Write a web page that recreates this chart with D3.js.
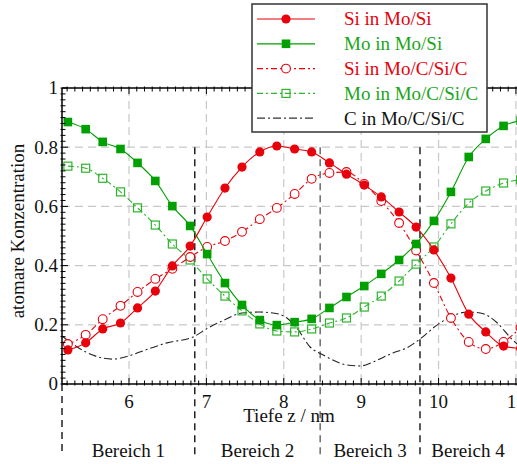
<!DOCTYPE html>
<html>
<head>
<meta charset="utf-8">
<script src="https://cdn.jsdelivr.net/npm/d3@7"></script>
<style>
  body { margin: 0; background: #fff; }
  svg text { font-family: 'Liberation Serif', 'DejaVu Serif', serif; }
</style>
</head>
<body>
<div id="chart"></div>
<script>
// depth positions of the measured points (nm)
var depth = [5.21, 5.44, 5.66, 5.89, 6.11, 6.34, 6.56, 6.79, 7.01, 7.24, 7.46, 7.69, 7.91,
  8.14, 8.36, 8.59, 8.81, 9.04, 9.26, 9.49, 9.71, 9.94, 10.16, 10.39, 10.61, 10.84, 11.06];

var siMoSi = [0.115, 0.139, 0.186, 0.206, 0.257, 0.314, 0.399, 0.466, 0.564, 0.662, 0.733, 0.784, 0.804,
  0.794, 0.784, 0.747, 0.709, 0.672, 0.632, 0.581, 0.530, 0.453, 0.358, 0.236, 0.176, 0.128, 0.12];
var moMoSi = [0.885, 0.861, 0.818, 0.794, 0.747, 0.686, 0.601, 0.534, 0.439, 0.341, 0.267, 0.216, 0.199,
  0.209, 0.220, 0.257, 0.294, 0.331, 0.372, 0.419, 0.473, 0.551, 0.649, 0.767, 0.828, 0.872, 0.89];
var siMoCSiC = [0.135, 0.166, 0.219, 0.264, 0.311, 0.355, 0.389, 0.429, 0.463, 0.483, 0.514, 0.557, 0.595,
  0.642, 0.693, 0.713, 0.716, 0.676, 0.618, 0.544, 0.451, 0.341, 0.223, 0.142, 0.118, 0.142, 0.19];
var moMoCSiC = [0.736, 0.729, 0.695, 0.649, 0.595, 0.537, 0.473, 0.419, 0.355, 0.297, 0.247, 0.203, 0.179,
  0.176, 0.186, 0.206, 0.223, 0.260, 0.297, 0.348, 0.405, 0.463, 0.541, 0.611, 0.652, 0.679, 0.69];

// carbon profile (smooth curve, no markers)
var cDepth = [5.134, 5.33, 5.56, 5.79, 6.0, 6.14, 6.49, 6.83, 7.02, 7.23, 7.46, 7.68, 7.86, 8.04, 8.17,
  8.34, 8.51, 8.82, 8.99, 9.15, 9.41, 9.59, 9.76, 9.98, 10.15, 10.37, 10.54, 10.76, 10.92, 11.12];
var cValue = [0.162, 0.125, 0.095, 0.084, 0.095, 0.108, 0.139, 0.159, 0.189, 0.216, 0.240, 0.243, 0.240,
  0.223, 0.189, 0.125, 0.098, 0.064, 0.061, 0.074, 0.105, 0.122, 0.152, 0.199, 0.226, 0.243, 0.240, 0.206, 0.159, 0.11];

var regionBounds = [5.134, 6.85, 8.47, 9.76, 11.0];
var regionLabels = ["Bereich 1", "Bereich 2", "Bereich 3", "Bereich 4"];
var xTicks = [6, 7, 8, 9, 10, 11];
var yTicks = [0, 0.2, 0.4, 0.6, 0.8, 1];
var yTickLabels = ["0", "0.2", "0.4", "0.6", "0.8", "1"];

var red = "#e8000b";
var green = "#00a000";
var greenLight = "#2db52d";
var serif = "'Liberation Serif', 'Times New Roman', 'DejaVu Serif', serif";
var fs = 19;

var series = [
  { name: "Si in Mo/Si", values: siMoSi, color: red, text: red, marker: "circle", filled: true, dash: null },
  { name: "Mo in Mo/Si", values: moMoSi, color: green, text: "#1aa51a", marker: "square", filled: true, dash: null },
  { name: "Si in Mo/C/Si/C", values: siMoCSiC, color: red, text: red, marker: "circle", filled: false, dash: "6,3,2,3" },
  { name: "Mo in Mo/C/Si/C", values: moMoCSiC, color: greenLight, text: "#1aa51a", marker: "square", filled: false, dash: "6,3,2,3" }
];

var width = 517, height = 464;

var svg = d3.select("#chart").append("svg")
  .attr("width", width)
  .attr("height", height)
  .attr("font-family", serif)
  .style("font-family", serif);

var xScale = d3.scaleLinear().domain([5.134, 11.13]).range([62, 526]);
var yScale = d3.scaleLinear().domain([0, 1]).range([384, 88]);

svg.append("clipPath").attr("id", "plotclip")
  .append("rect")
  .attr("x", xScale.range()[0]).attr("y", yScale(1))
  .attr("width", xScale.range()[1] - xScale.range()[0])
  .attr("height", yScale(0) - yScale(1));

// grid lines
var grid = svg.append("g");
grid.selectAll(".vgrid")
  .data(xTicks)
  .join("line")
  .attr("x1", d => xScale(d)).attr("x2", d => xScale(d))
  .attr("y1", yScale(1)).attr("y2", yScale(0))
  .attr("stroke", "#c8c8c8").attr("stroke-width", 1.2).attr("stroke-dasharray", "8,5");
grid.selectAll(".hgrid")
  .data(yTicks.slice(1, 5))
  .join("line")
  .attr("x1", xScale.range()[0]).attr("x2", xScale.range()[1])
  .attr("y1", d => yScale(d)).attr("y2", d => yScale(d))
  .attr("stroke", "#c8c8c8").attr("stroke-width", 1.2).attr("stroke-dasharray", "8,5");

// region separators
svg.append("g")
  .selectAll("line")
  .data(regionBounds.slice(0, 4))
  .join("line")
  .attr("x1", d => xScale(d)).attr("x2", d => xScale(d))
  .attr("y1", (d, i) => i == 0 ? yScale(0) : yScale(0.8)).attr("y2", 456)
  .attr("stroke", (d, i) => i == 2 ? "#555" : "#000")
  .attr("stroke-width", 1.3)
  .attr("stroke-dasharray", "7,5");

svg.append("g")
  .selectAll("text")
  .data(regionLabels)
  .join("text")
  .attr("x", (d, i) => (xScale(regionBounds[i]) + xScale(regionBounds[i + 1])) / 2)
  .attr("y", 457)
  .attr("text-anchor", "middle")
  .attr("font-size", fs)
  .attr("fill", "#111")
  .text(d => d);

var plot = svg.append("g").attr("clip-path", "url(#plotclip)");

// carbon curve
var cPoints = cDepth.map((d, i) => [d, cValue[i]]);
plot.append("path")
  .datum(cPoints)
  .attr("fill", "none")
  .attr("stroke", "#222")
  .attr("stroke-width", 1.1)
  .attr("stroke-dasharray", "8,3,2,3")
  .attr("d", d3.line().x(d => xScale(d[0])).y(d => yScale(d[1])).curve(d3.curveMonotoneX));

var line = d3.line()
  .x(d => xScale(d[0]))
  .y(d => yScale(d[1]))
  .curve(d3.curveMonotoneX);

function drawMarker(g, s) {
  if (s.marker == "circle") {
    g.append("circle").attr("r", s.filled ? 4.6 : 4.4)
      .attr("fill", s.filled ? s.color : "#fff")
      .attr("stroke", s.color).attr("stroke-width", s.filled ? 0 : 1.1);
  } else {
    var h = s.filled ? 4.3 : 4.0;
    g.append("rect").attr("x", -h).attr("y", -h).attr("width", 2 * h).attr("height", 2 * h)
      .attr("fill", s.filled ? s.color : "none")
      .attr("stroke", s.color).attr("stroke-width", s.filled ? 0 : 1.2);
  }
}

// draw order: open series first, filled series on top
[3, 2, 1, 0].forEach(function (k) {
  var s = series[k];
  var pts = depth.map((d, i) => [d, s.values[i]]);
  plot.append("path")
    .datum(pts)
    .attr("fill", "none")
    .attr("stroke", s.color)
    .attr("stroke-width", 1.1)
    .attr("stroke-dasharray", s.dash)
    .attr("d", line);
  plot.append("g")
    .selectAll("g")
    .data(pts)
    .join("g")
    .attr("transform", d => "translate(" + xScale(d[0]) + "," + yScale(d[1]) + ")")
    .each(function () { drawMarker(d3.select(this), s); });
});

// axes frame
var axis = svg.append("g").attr("stroke", "#000");
axis.append("line").attr("x1", 62).attr("x2", 62).attr("y1", yScale(0)).attr("y2", yScale(1)).attr("stroke-width", 1.5);
axis.append("line").attr("x1", 62).attr("x2", 526).attr("y1", yScale(0)).attr("y2", yScale(0)).attr("stroke-width", 1.5);
axis.append("line").attr("x1", 62).attr("x2", 526).attr("y1", yScale(1)).attr("y2", yScale(1)).attr("stroke-width", 1.5);

// minor and major ticks
var xMinor = d3.range(52, 112).map(v => v / 10);
axis.selectAll(".xt")
  .data(xMinor)
  .join("line")
  .attr("x1", d => xScale(d)).attr("x2", d => xScale(d))
  .attr("y1", yScale(0) + 1.5).attr("y2", d => yScale(0) - (Number.isInteger(d) ? 6 : 3.5))
  .attr("stroke-width", 1);
axis.selectAll(".xtt")
  .data(xMinor)
  .join("line")
  .attr("x1", d => xScale(d)).attr("x2", d => xScale(d))
  .attr("y1", yScale(1) - 1.5).attr("y2", d => yScale(1) + (Number.isInteger(d) ? 6 : 3.5))
  .attr("stroke-width", 1);
var yMinor = d3.range(0, 51).map(v => v / 50);
axis.selectAll(".yt")
  .data(yMinor)
  .join("line")
  .attr("x1", 60.5).attr("x2", (d, i) => 62 + (i % 10 == 0 ? 6 : 3.5))
  .attr("y1", d => yScale(d)).attr("y2", d => yScale(d))
  .attr("stroke-width", 1);

// tick labels
svg.append("g")
  .selectAll("text")
  .data(xTicks)
  .join("text")
  .attr("x", d => xScale(d))
  .attr("y", 408)
  .attr("text-anchor", "middle")
  .attr("font-size", fs)
  .attr("fill", "#111")
  .text(d => d);

svg.append("g")
  .selectAll("text")
  .data(yTicks)
  .join("text")
  .attr("x", 58)
  .attr("y", d => yScale(d))
  .attr("dy", "0.34em")
  .attr("text-anchor", "end")
  .attr("font-size", fs)
  .attr("fill", "#111")
  .text((d, i) => yTickLabels[i]);

// axis titles
svg.append("text")
  .attr("x", 289).attr("y", 422)
  .attr("text-anchor", "middle")
  .attr("font-size", fs)
  .attr("fill", "#111")
  .text("Tiefe z / nm");

svg.append("text")
  .attr("transform", "translate(24,231) rotate(-90)")
  .attr("text-anchor", "middle")
  .attr("font-size", fs)
  .attr("fill", "#111")
  .text("atomare Konzentration");

// legend
var legend = svg.append("g");
legend.append("rect")
  .attr("x", 252).attr("y", 4).attr("width", 235).attr("height", 128)
  .attr("fill", "#fff").attr("stroke", "#333").attr("stroke-width", 1.5);

var legendItems = series.concat([{ name: "C in Mo/C/Si/C", color: "#333", text: "#111", marker: null, dash: "8,3,2,3" }]);
var items = legend.selectAll(".item")
  .data(legendItems)
  .join("g")
  .attr("transform", (d, i) => "translate(0," + (19 + i * 24.8) + ")");
items.append("line")
  .attr("x1", 257).attr("x2", 315)
  .attr("stroke", d => d.color)
  .attr("stroke-width", 1.2)
  .attr("stroke-dasharray", d => d.dash);
items.each(function (d) {
  if (d.marker) {
    var g = d3.select(this).append("g").attr("transform", "translate(286,0)");
    drawMarker(g, d);
  }
});
items.append("text")
  .attr("x", 344).attr("y", 0).attr("dy", "0.34em")
  .attr("font-size", fs)
  .attr("fill", d => d.text)
  .text(d => d.name);
</script>
</body>
</html>
